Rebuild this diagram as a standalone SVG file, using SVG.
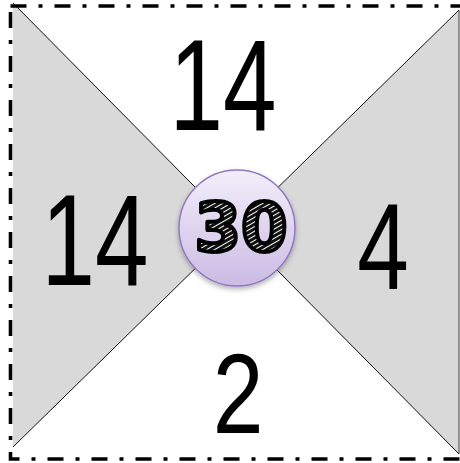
<svg xmlns="http://www.w3.org/2000/svg" width="460" height="463" viewBox="0 0 460 463">
  <style>
    .hand { font-family: "Liberation Sans", Arial, sans-serif; fill: #000; text-anchor: middle; }
    .tri { fill: #d9d9d9; }
    .diag { stroke: #111; stroke-width: 1; fill: none; }
    .border { fill: none; stroke: #000; stroke-width: 3.6; stroke-dasharray: 16 12 4 12; }
  </style>
  <defs>
    <linearGradient id="circFill" x1="0" y1="0" x2="0" y2="1">
      <stop offset="0" stop-color="#f3eefa"/>
      <stop offset="1" stop-color="#cbbbe4"/>
    </linearGradient>
    <pattern id="hatch" patternUnits="userSpaceOnUse" width="4" height="4" patternTransform="rotate(60)">
      <rect width="4" height="4" fill="#fff"/>
      <rect width="3" height="4" fill="#111"/>
    </pattern>
    <filter id="shadow" x="-20%" y="-20%" width="140%" height="150%">
      <feDropShadow dx="0" dy="2.5" stdDeviation="2.5" flood-color="#000" flood-opacity="0.3"/>
    </filter>
  </defs>

  <rect width="460" height="463" fill="#fff"/>

  <g id="left-region">
    <polygon class="tri" points="13,3 236,228.5 13,447"/>
  </g>
  <g id="right-region">
    <polygon class="tri" points="459,10 236,228.5 459,454"/>
    <line x1="459" y1="10" x2="459" y2="454" stroke="#777" stroke-width="1.5"/>
  </g>

  <g id="connectors">
    <line class="diag" x1="13" y1="3" x2="459" y2="454"/>
    <line class="diag" x1="13" y1="447" x2="459" y2="10"/>
  </g>

  <g id="frame">
    <rect class="border" x="10.5" y="6" width="460" height="453"/>
  </g>

  <g id="top-label">
    <text class="hand" transform="translate(223,130) scale(0.74,1)" font-size="130">14</text>
  </g>
  <g id="left-label">
    <text class="hand" transform="translate(95,285) scale(0.74,1)" font-size="130">14</text>
  </g>
  <g id="right-label">
    <text class="hand" transform="translate(383,289) scale(0.76,1)" font-size="122">4</text>
  </g>
  <g id="bottom-label">
    <text class="hand" transform="translate(238,433) scale(0.8,1)" font-size="114">2</text>
  </g>

  <g id="center">
    <circle cx="237" cy="228" r="58" fill="url(#circFill)" stroke="#9278c0" stroke-width="1.5" filter="url(#shadow)"/>
    <text x="241" y="251" font-family="'DejaVu Sans', sans-serif" font-weight="bold" font-size="67" text-anchor="middle" fill="url(#hatch)" stroke="#000" stroke-width="4" stroke-linejoin="round">30</text>
  </g>
</svg>
